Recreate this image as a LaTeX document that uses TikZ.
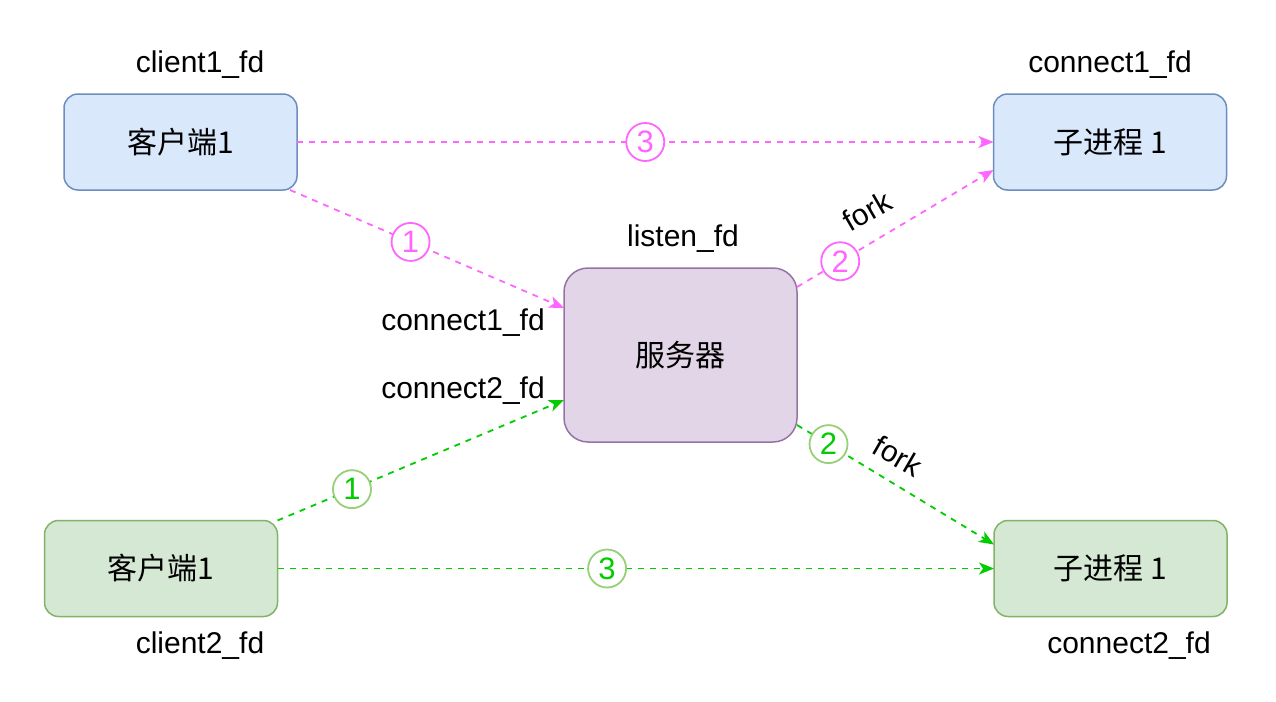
\documentclass[tikz,border=0pt]{standalone}
\usepackage{fontspec}
\setmainfont{Liberation Sans}
\newfontfamily\cjk{Noto Sans CJK SC}
\usetikzlibrary{calc,arrows.meta}
\definecolor{bluefill}{HTML}{DAE8FC}
\definecolor{bluedraw}{HTML}{6C8EBF}
\definecolor{purfill}{HTML}{E1D5E7}
\definecolor{purdraw}{HTML}{9673A6}
\definecolor{grnfill}{HTML}{D5E8D4}
\definecolor{grndraw}{HTML}{82B366}
\definecolor{pinkline}{HTML}{FF66FF}
\definecolor{grnline}{HTML}{00CC00}
\definecolor{grncirc}{HTML}{97D077}
\tikzset{
  every node/.style={font=\fontsize{30}{36}\selectfont, text=black},
  box/.style={draw, line width=1.5pt, rounded corners=14pt, minimum width=233pt, minimum height=96pt, inner sep=0pt, outer sep=0pt, font=\cjk\fontsize{30}{36}\selectfont},
  bluebox/.style={box, fill=bluefill, draw=bluedraw},
  grnbox/.style={box, fill=grnfill, draw=grndraw},
  srvbox/.style={box, fill=purfill, draw=purdraw, minimum height=174pt, rounded corners=24pt},
  lbl/.style={inner sep=0pt},
  pinkedge/.style={draw=pinkline, line width=1.8pt, dash pattern=on 6pt off 6pt, -{Stealth[length=15pt,width=12pt,inset=4pt]}},
  grnedge/.style={draw=grnline, line width=1.8pt, dash pattern=on 6pt off 6pt, -{Stealth[length=15pt,width=12pt,inset=4pt]}},
  pinkcirc/.style={circle, solid, draw=pinkline, fill=white, line width=1.8pt, minimum size=38pt, inner sep=0pt, text=pinkline, font=\fontsize{31}{32}\selectfont},
  grncirc/.style={circle, solid, draw=grncirc, fill=white, line width=1.8pt, minimum size=38pt, inner sep=0pt, text=grnline, font=\fontsize{31}{32}\selectfont},
}
\begin{document}
\begin{tikzpicture}[x=1pt,y=-1pt]
\useasboundingbox (0,0) rectangle (1276,701);
\node[bluebox] (c1) at (180.5,142) {客户端1};
\node[bluebox] (ch1) at (1110,142) {子进程 1};
\node[srvbox] (srv) at (680.5,355) {服务器};
\node[grnbox] (c2) at (161,568.5) {客户端1};
\node[grnbox] (ch2) at (1110.5,568.5) {子进程 1};

\node[lbl] (l1) at (200,65) {client1\_fd};
\node[lbl] (l2) at (1110,65) {connect1\_fd};
\node[lbl] (l3) at (683,239) {listen\_fd};
\node[lbl] (l4) at (463,323) {connect1\_fd};
\node[lbl] (l5) at (463,391) {connect2\_fd};
\node[lbl] (l6) at (200,646) {client2\_fd};
\node[lbl] (l7) at (1129,646) {connect2\_fd};
\node[lbl, rotate=30] (f1) at (867,211) {fork};
\node[lbl, rotate=-30] (f2) at (898,456) {fork};

% pink edges
\draw[pinkedge] (c1.east) -- node[pinkcirc, pos=0.5] (p3) {3} (ch1.west);
\draw[pinkedge] ($(c1.south east)+(-7,0)$) -- node[pinkcirc, pos=0.44] (p1) {1} ($(srv.north west)+(0,40)$);
\draw[pinkedge] ($(srv.north east)+(0,19)$) -- node[pinkcirc, pos=0.22] (p2) {2} ($(ch1.south west)+(0,-20)$);
% green edges
\draw[grnedge] (c2.east) -- node[grncirc, pos=0.46] (g3) {3} (ch2.west);
\draw[grnedge] (c2.north east) -- node[grncirc, pos=0.26] (g1) {1} ($(srv.south west)+(0,-42)$);
\draw[grnedge] ($(srv.south east)+(0,-17)$) -- node[grncirc, pos=0.16] (g2) {2} ($(ch2.north west)+(0,24)$);
\end{tikzpicture}
\end{document}
